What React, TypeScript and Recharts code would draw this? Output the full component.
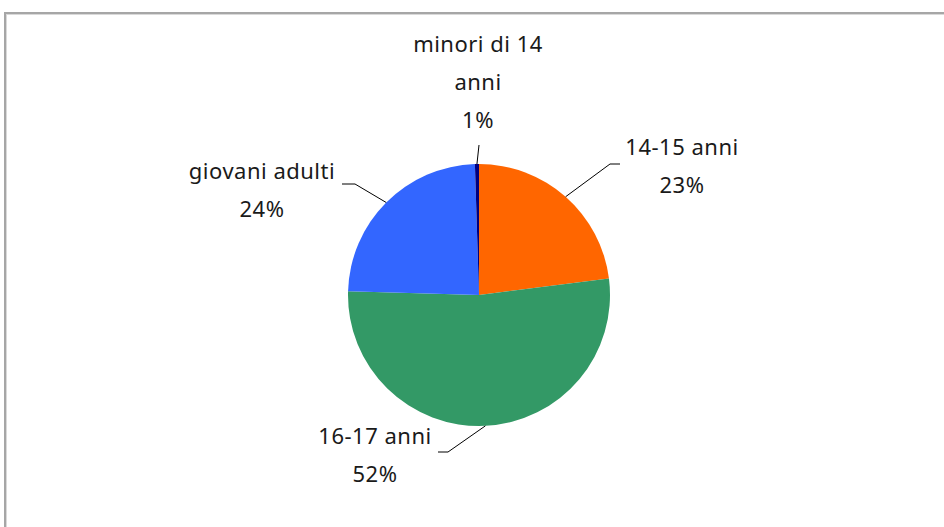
import React from 'react';
import { PieChart, Pie, Cell } from 'recharts';

const CATEGORIES = ['14-15 anni', '16-17 anni', 'giovani adulti', 'minori di 14 anni'];
const VALUES = [23.0, 52.45, 24.05, 0.5];
const COLORS = ['#FF6600', '#339966', '#3366FF', '#000080'];

// label placement relative to the pie centre: text centre, elbow and end of leader line
const LABEL_LAYOUT = [
  { tx: 203, ty: -149, elbow: [131, -131], end: [141, -131], wrap: 99 },
  { tx: -104, ty: 140, elbow: [-31, 157], end: [-41, 157], wrap: 99 },
  { tx: -217, ty: -125, elbow: [-124, -111], end: [-137, -111], wrap: 99 },
  { tx: -1, ty: -252, elbow: [0, -150], end: [0, -150], wrap: 12 },
];

const data = CATEGORIES.map((name, i) => ({ name, value: VALUES[i] }));
const total = VALUES.reduce((a, b) => a + b, 0);

const RADIAN = Math.PI / 180;
const LINE_GAP = 38;

function wrapText(text: string, max: number) {
  const words = text.split(' ');
  const lines: string[] = [];
  let cur = '';
  words.forEach((w) => {
    const next = cur ? cur + ' ' + w : w;
    if (next.length > max && cur) {
      lines.push(cur);
      cur = w;
    } else {
      cur = next;
    }
  });
  if (cur) lines.push(cur);
  return lines;
}

const renderLabel = (props: any) => {
  const { cx, cy, midAngle, outerRadius, index, value } = props;
  const lay = LABEL_LAYOUT[index];
  const sx = cx + outerRadius * Math.cos(-midAngle * RADIAN);
  const sy = cy + outerRadius * Math.sin(-midAngle * RADIAN);
  const pct = Math.round((value / total) * 100) + '%';
  const lines = [...wrapText(CATEGORIES[index], lay.wrap), pct];
  const path = `M${sx},${sy} L${cx + lay.elbow[0]},${cy + lay.elbow[1]} L${cx + lay.end[0]},${cy + lay.end[1]}`;
  return (
    <g key={`lbl-${index}`}>
      <path d={path} stroke="#000" strokeWidth={1} fill="none" />
      {lines.map((t, i) => (
        <text
          key={i}
          x={cx + lay.tx}
          y={cy + lay.ty + i * LINE_GAP}
          textAnchor="middle"
          dominantBaseline="central"
          fill="#1a1a1a"
          fontSize={22}
          letterSpacing={0.5}
          fontFamily="'Noto Sans', sans-serif"
        >
          {t}
        </text>
      ))}
    </g>
  );
};

export default function App() {
  return (
    <div style={{ position: 'fixed', left: 0, top: 0, width: 944, height: 527, overflow: 'hidden', background: '#fff' }}>
      <div
        style={{
          position: 'absolute',
          left: 4,
          top: 12,
          width: 980,
          height: 560,
          border: '2px solid #a6a6a6',
          boxShadow: 'inset 1px 1px 0 #d9d9d9',
        }}
      />
      <div style={{ position: 'absolute', left: 0, top: 0 }}>
        <PieChart width={944} height={527} margin={{ top: 0, right: 0, bottom: 0, left: 0 }}>
          <Pie
            data={data}
            dataKey="value"
            nameKey="name"
            cx={479}
            cy={295}
            outerRadius={131}
            startAngle={90}
            endAngle={-270}
            stroke="none"
            label={renderLabel}
            labelLine={false}
            isAnimationActive={false}
          >
            {data.map((entry, i) => (
              <Cell key={`cell-${i}`} fill={COLORS[i]} stroke="none" />
            ))}
          </Pie>
        </PieChart>
      </div>
    </div>
  );
}
